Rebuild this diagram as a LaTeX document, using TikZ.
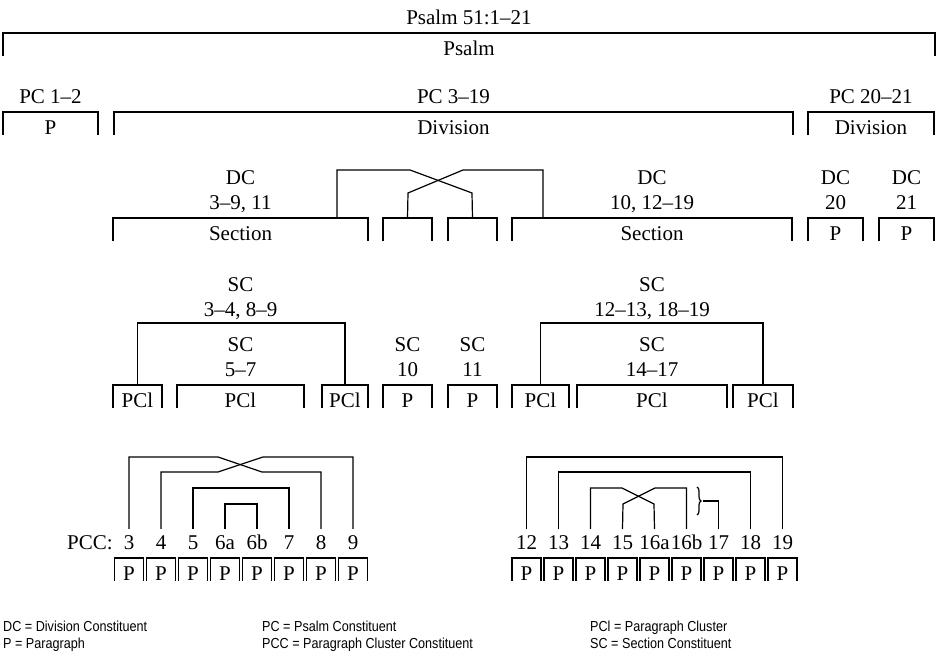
\documentclass[tikz,border=0pt]{standalone}
\usepackage{fontspec}
\setmainfont{Liberation Serif}
\newfontfamily\legendfont[FakeStretch=0.87]{Liberation Sans}
\usetikzlibrary{positioning, decorations.pathreplacing}

\begin{document}
\begin{tikzpicture}[
  x=1pt, y=1pt,
  font=\fontsize{21}{25}\selectfont,
  line/.style={line width=1.2pt},
  brk/.style={anchor=north, inner sep=0pt, outer sep=0pt,
              minimum height=23pt, text height=23pt, text depth=0pt},
  pbox/.style={brk, minimum width=29pt},
  lbl/.style={inner sep=0pt, outer sep=0pt, text height=14pt, text depth=0pt},
  num/.style={lbl, outer ysep=7pt},
  legend/.style={font=\legendfont\fontsize{14.5}{16}\selectfont,
                 anchor=base west, inner sep=0pt}
]
\useasboundingbox (0,0) rectangle (938,656);

% psalm and psalm constituents
\node[brk, minimum width=932pt] (psalm) at (469,623) {Psalm};
\node[lbl, above=8pt of psalm] (title) {Psalm 51:1--21};

\node[brk, minimum width=95pt] (pcA) at (50.5,544) {P};
\node[brk, minimum width=679pt] (pcB) at (453.5,544) {Division};
\node[brk, minimum width=126pt] (pcC) at (871,544) {Division};
\node[lbl, above=8pt of pcA] (pcAl) {PC 1--2};
\node[lbl, above=8pt of pcB] (pcBl) {PC 3--19};
\node[lbl, above=8pt of pcC] (pcCl) {PC 20--21};

% division constituents
\node[brk, minimum width=255pt] (secA) at (240.5,438) {Section};
\node[brk, minimum width=49pt] (dcTen) at (407.5,438) {};
\node[brk, minimum width=49pt] (dcEleven) at (472.5,438) {};
\node[brk, minimum width=280pt] (secB) at (652,438) {Section};
\node[brk, minimum width=55pt] (dcTw) at (835.5,438) {P};
\node[brk, minimum width=55pt] (dcTwOne) at (906.5,438) {P};

\node[lbl, above=8pt of secA] (dcAn) {3--9, 11};
\node[lbl, above=11pt of dcAn] (dcA) {DC};
\node[lbl, above=8pt of secB] (dcBn) {10, 12--19};
\node[lbl, above=11pt of dcBn] (dcB) {DC};
\node[lbl, above=8pt of dcTw] (dcTwn) {20};
\node[lbl, above=11pt of dcTwn] (dcTwl) {DC};
\node[lbl, above=8pt of dcTwOne] (dcTwOnen) {21};
\node[lbl, above=11pt of dcTwOnen] (dcTwOnel) {DC};

\draw[line] ([xshift=-31pt]secA.north east) |- ++(73,48) -- ++(62,-23) -- (dcEleven.north);
\draw[line] ([xshift=31pt]secB.north west) |- ++(-80,48) -- ++(-55,-23) -- (dcTen.north);

% section constituents
\node[brk, minimum width=49pt] (pclA) at (137.5,271) {PCl};
\node[brk, minimum width=127pt] (pclB) at (240.5,271) {PCl};
\node[brk, minimum width=46pt] (pclC) at (345,271) {PCl};
\node[brk, minimum width=49pt] (scTen) at (407.5,271) {P};
\node[brk, minimum width=49pt] (scEleven) at (472.5,271) {P};
\node[brk, minimum width=57pt] (pclD) at (540.5,271) {PCl};
\node[brk, minimum width=150pt] (pclE) at (652,271) {PCl};
\node[brk, minimum width=60pt] (pclF) at (763,271) {PCl};

\node[lbl, above=8pt of pclB] (scBn) {5--7};
\node[lbl, above=11pt of scBn] (scB) {SC};
\node[lbl, above=21pt of scB] (scAn) {3--4, 8--9};
\node[lbl, above=11pt of scAn] (scA) {SC};
\node[lbl, above=8pt of scTen] (scTenn) {10};
\node[lbl, above=11pt of scTenn] (scTenl) {SC};
\node[lbl, above=8pt of scEleven] (scElevenn) {11};
\node[lbl, above=11pt of scElevenn] (scElevenl) {SC};
\node[lbl, above=8pt of pclE] (scEn) {14--17};
\node[lbl, above=11pt of scEn] (scE) {SC};
\node[lbl, above=21pt of scE] (scDn) {12--13, 18--19};
\node[lbl, above=11pt of scDn] (scD) {SC};

\draw[line] (pclA.north) |- ([yshift=-6pt]scAn.south) -| (pclC.north);
\draw[line] (pclD.north) |- ([yshift=-6pt]scDn.south) -| (pclF.north);

\foreach \b in {psalm, pcA, pcB, pcC, secA, dcTen, dcEleven, secB, dcTw, dcTwOne,
                pclA, pclB, pclC, scTen, scEleven, pclD, pclE, pclF}
  \draw[line] (\b.south west) |- (\b.north east) -- (\b.south east);

% paragraph cluster constituents
\foreach \n [count=\i from 0] in {3,4,5,6a,6b,7,8,9} {
  \node[pbox] (p\n) at (129+32*\i,98) {P};
  \node[num, above=1pt of p\n] (n\n) {\n};
  \draw[line] (p\n.south west) |- (p\n.north east) -- (p\n.south east);
}
\foreach \n [count=\i from 0] in {12,13,14,15,16a,16b,17,18,19} {
  \node[pbox] (p\n) at (526.5+32*\i,98) {P};
  \node[num, above=1pt of p\n] (n\n) {\n};
  \draw[line] (p\n.south west) |- (p\n.north east) -- (p\n.south east);
}
\node[num, left=11pt of n3] (pcc) {PCC:};

\draw[line] (n3.north) |- ++(89,72) -- ++(44,-15) -| (n8.north);
\draw[line] (n4.north) |- ++(57,57) -- ++(45,15) -| (n9.north);
\draw[line] (n5.north) -- ++(0,41) -| (n7.north);
\draw[line] (n6a.north) -- ++(0,25) -| (n6b.north);

\draw[line] (n12.north) -- ++(0,72) -| (n19.north);
\draw[line] (n13.north) -- ++(0,57) -| (n18.north);
\draw[line] (n14.north) |- ++(31.5,41) -- ++(32,-16) -- (n16a.north);
\draw[line] (n16b.north) |- ++(-31.5,41) -- ++(-32,-16) -- (n15.north);
\draw[line, decorate, decoration={brace, amplitude=4pt}] (697,169) -- (697,141);
\coordinate (tip) at (703,155);
\draw[line] (tip) -| (n17.north);

% legend
\node[legend] (legDC) at (3,24) {DC = Division Constituent};
\node[legend] (legP) at (3,7) {P = Paragraph};
\node[legend] (legPC) at (262,24) {PC = Psalm Constituent};
\node[legend] (legPCC) at (262,7) {PCC = Paragraph Cluster Constituent};
\node[legend] (legPCl) at (590,24) {PCl = Paragraph Cluster};
\node[legend] (legSC) at (590,7) {SC = Section Constituent};
\end{tikzpicture}
\end{document}
